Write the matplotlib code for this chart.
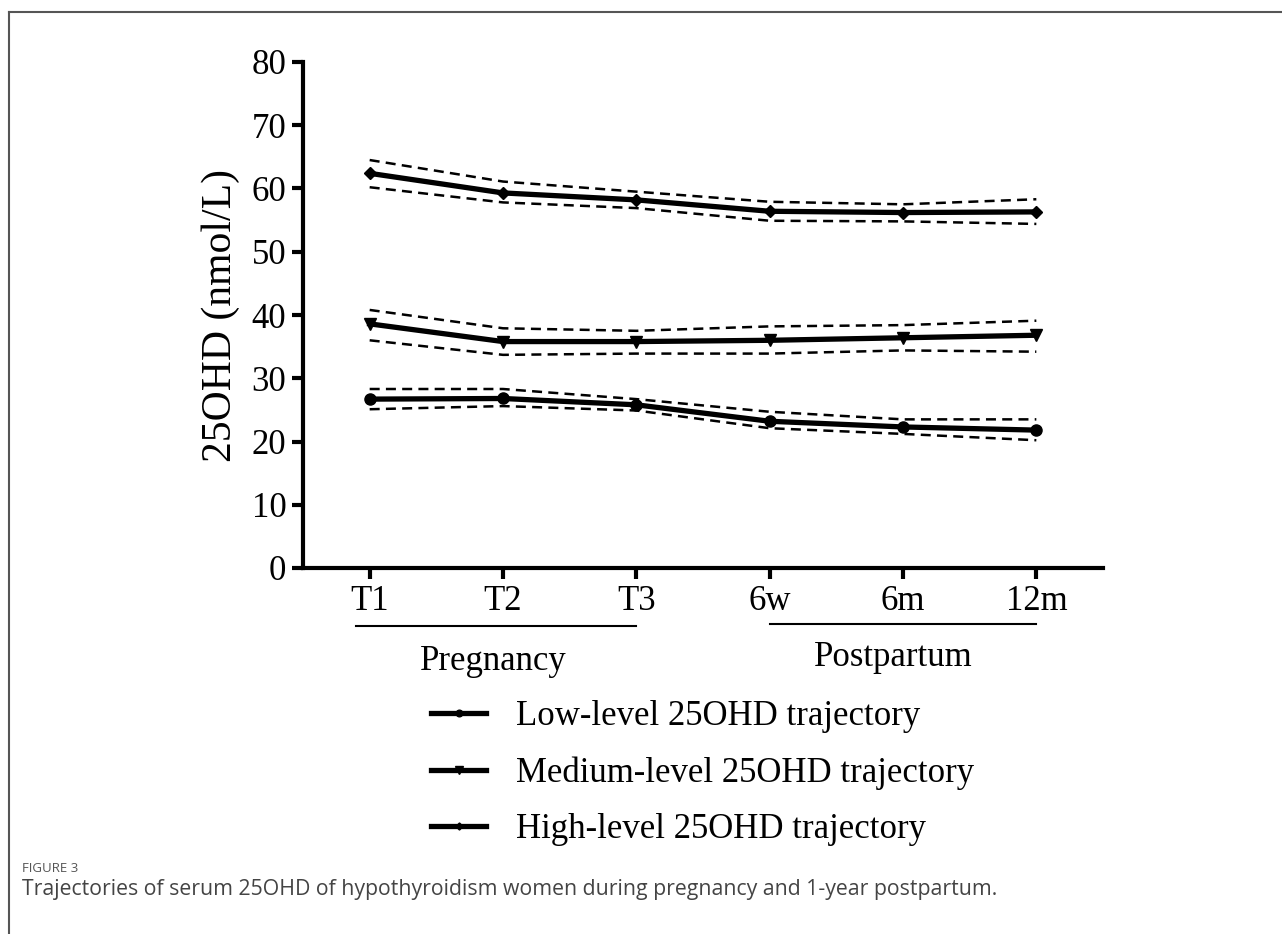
import matplotlib.pyplot as plt
from matplotlib.lines import Line2D

plt.rcParams['font.family'] = ['Liberation Serif', 'DejaVu Serif']

timepoints = ['T1', 'T2', 'T3', '6w', '6m', '12m']

low_mean = [26.7, 26.8, 25.8, 23.2, 22.3, 21.8]
low_upper = [28.3, 28.3, 26.7, 24.7, 23.5, 23.5]
low_lower = [25.1, 25.6, 24.9, 22.1, 21.2, 20.2]

med_mean = [38.6, 35.8, 35.8, 36.0, 36.4, 36.8]
med_upper = [40.8, 37.9, 37.5, 38.2, 38.4, 39.1]
med_lower = [36.0, 33.7, 33.9, 33.9, 34.4, 34.2]

high_mean = [62.4, 59.3, 58.2, 56.4, 56.2, 56.3]
high_upper = [64.5, 61.1, 59.5, 57.9, 57.5, 58.3]
high_lower = [60.2, 57.8, 56.9, 54.9, 54.8, 54.4]

series = [
    ('Low-level 25OHD trajectory', low_mean, low_upper, low_lower, 'o', 8),
    ('Medium-level 25OHD trajectory', med_mean, med_upper, med_lower, 'v', 9),
    ('High-level 25OHD trajectory', high_mean, high_upper, high_lower, 'D', 6),
]

fig = plt.figure(figsize=(12.82, 9.34), dpi=100)
ax = fig.add_axes([303 / 1282, 1 - 568 / 934, 800 / 1282, 506 / 934])

x = list(range(len(timepoints)))
handles = []
for name, mean, up, lo, mk, ms in series:
    ax.plot(x, up, color='black', lw=1.8, ls=(0, (4, 2.5)))
    ax.plot(x, lo, color='black', lw=1.8, ls=(0, (4, 2.5)))
    ax.plot(x, mean, color='black', lw=3.8, marker=mk, ms=ms)
    handles.append(Line2D([], [], color='black', lw=3.8, marker=mk, ms=ms * 0.6, label=name))

ax.set_xlim(-0.5, 5.5)
ax.set_ylim(0, 80)
ax.set_yticks(range(0, 81, 10))
ax.set_xticks(x)
ax.set_xticklabels(timepoints)
ax.set_ylabel('25OHD (nmol/L)', fontsize=30, labelpad=8)
ax.tick_params(labelsize=25, width=3, length=8, pad=4)
for s in ['top', 'right']:
    ax.spines[s].set_visible(False)
for s in ['left', 'bottom']:
    ax.spines[s].set_linewidth(3)

# group underlines and labels
tr = ax.get_xaxis_transform()
ax.plot([-0.1, 2.0], [-0.115, -0.115], color='black', lw=1.5, transform=tr, clip_on=False)
ax.plot([3.0, 5.0], [-0.111, -0.111], color='black', lw=1.5, transform=tr, clip_on=False)
ax.text(0.93, -0.185, 'Pregnancy', transform=tr, ha='center', va='center', fontsize=25)
ax.text(3.93, -0.177, 'Postpartum', transform=tr, ha='center', va='center', fontsize=25)

fig.legend(handles=handles, loc='upper left', bbox_to_anchor=(400 / 1282, 1 - 669 / 934),
           frameon=False, fontsize=25, handlelength=1.58, handletextpad=0.86,
           labelspacing=0.67)

# frame lines and caption
fig.add_artist(Line2D([9 / 1282, 9 / 1282], [0, 1 - 12 / 934], color='#555555', lw=1.5))
fig.add_artist(Line2D([9 / 1282, 1], [1 - 12 / 934, 1 - 12 / 934], color='#555555', lw=1.5))
fig.text(22 / 1282, 1 - 868 / 934, 'FIGURE 3', fontsize=9.5, color='#555555',
         family=['Open Sans', 'DejaVu Sans'], va='center')
fig.text(22 / 1282, 1 - 890 / 934,
         'Trajectories of serum 25OHD of hypothyroidism women during pregnancy and 1-year postpartum.',
         fontsize=15.3, color='#444444', family=['Open Sans', 'DejaVu Sans'], va='center')

fig.savefig('out.png', dpi=100)
